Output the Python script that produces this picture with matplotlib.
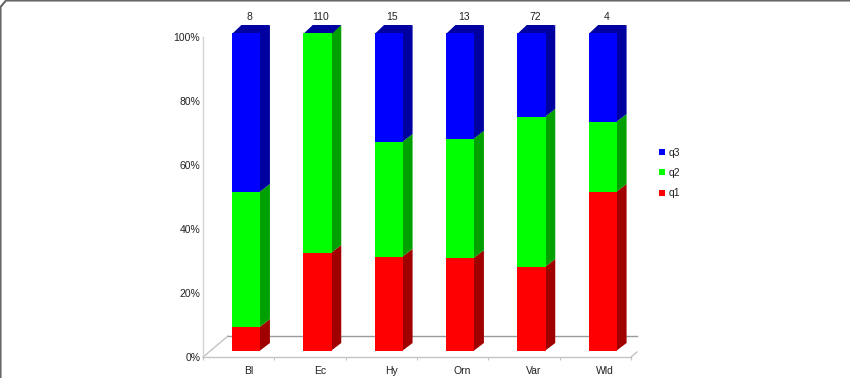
import matplotlib
matplotlib.use("Agg")
import matplotlib.pyplot as plt
from matplotlib.lines import Line2D

# значения, в процентах
groups = ["Bl", "Ec", "Hy", "Orn", "Var", "Wld"]
counts = [8, 110, 15, 13, 72, 4]
q1 = [7.5, 30.8, 29.6, 29.2, 26.4, 50.0]
q2 = [42.5, 69.2, 36.1, 37.5, 47.2, 22.0]
q3 = [50.0, 0.0, 34.3, 33.3, 26.4, 28.0]

W, H = 850, 378
plt.rcParams["font.family"] = ["Liberation Sans", "DejaVu Sans"]

fig = plt.figure(figsize=(W / 100, H / 100), dpi=100)
# передняя плоскость пола: x 203..631, y 37..357 в пикселях
ax = fig.add_axes([203 / W, 1 - 357 / H, 428 / W, 320 / H])
ax.set_xlim(0, 6)
ax.set_ylim(0, 100)
ax.patch.set_alpha(0)

px = 6 / 428      # один пиксель по x в единицах оси
py = 100 / 320    # один пиксель по y в единицах оси

# смещение столбцов и глубина псевдо-3D
bar_w = 28.5 * px
bar_dx = 7.5 * px
bar_dy = 6 * py
dep_x = 9.5 * px
dep_y = 8 * py
floor_x = 25 * px
floor_y = 21 * py

for s in ["top", "right"]:
    ax.spines[s].set_visible(False)
ax.spines["left"].set_color("#d4d4d4")
ax.spines["bottom"].set_color("#c4c4c4")
ax.spines["left"].set_linewidth(1.0)
ax.spines["bottom"].set_linewidth(1.0)

ax.set_yticks(range(0, 101, 20))
ax.set_yticklabels([f"{v}%" for v in range(0, 101, 20)], fontsize=7.5, color="#222222")
ax.tick_params(axis="y", length=0, pad=2)
ax.set_xticks(range(7))
ax.set_xticklabels([])
ax.tick_params(axis="x", length=2, color="#c4c4c4")

# пол
grey = "#9a9a9a"
ax.plot([0, floor_x], [0, floor_y], color="#c4c4c4", lw=1, clip_on=False, zorder=1)
ax.plot([floor_x, 6 + 6 * px], [floor_y, floor_y], color=grey, lw=1, clip_on=False, zorder=1)
ax.plot([6, 6 + 6 * px], [0, 5 * py], color="#c4c4c4", lw=1, clip_on=False, zorder=1)

series = [
    (q1, "#ff0000", "#a00000"),
    (q2, "#00ff00", "#00a000"),
    (q3, "#0000ff", "#0000a0"),
]

for i in range(len(groups)):
    x0 = i + 0.5 - bar_w / 2 + bar_dx
    x1 = x0 + bar_w
    base = 0.0
    for vals, front, side in series:
        v = vals[i]
        if v > 0:
            y0 = base * 318 / 320 + bar_dy
            y1 = (base + v) * 318 / 320 + bar_dy
            # боковая грань под передней, чтобы не было белого шва
            ax.fill([x1 - px, x1 + dep_x, x1 + dep_x, x1 - px],
                    [y0, y0 + dep_y, y1 + dep_y, y1],
                    color=side, lw=0, zorder=3, clip_on=False)
            ax.bar(x0, y1 - y0, width=bar_w, bottom=y0, align="edge",
                   color=front, lw=0, zorder=4, clip_on=False)
        base += v
    # верхняя грань у всех столбцов синяя
    ytop = base * 318 / 320 + bar_dy
    ax.fill([x0, x1, x1 + dep_x, x0 + dep_x],
            [ytop - py, ytop - py, ytop + dep_y, ytop + dep_y],
            color="#0000a0", lw=0, zorder=3, clip_on=False)
    ax.text(i + 0.5 + 11 * px, 100 + 20 * py, str(counts[i]), fontsize=7.5,
            color="#222222", ha="center", va="center")
    ax.text(i + 0.5 + 10 * px, -14 * py, groups[i], fontsize=7.5,
            color="#222222", ha="center", va="center")

# легенда
handles = [Line2D([], [], marker="s", ls="", ms=4.6, mew=0, color=c, label=n)
           for c, n in [("#0000ff", "q3"), ("#00ff00", "q2"), ("#ff0000", "q1")]]
fig.legend(handles=handles, loc="center left", bbox_to_anchor=(657 / W, 1 - 173 / H),
           frameon=False, fontsize=7.5, labelspacing=1.0, handlelength=1.0,
           handletextpad=0.1, borderpad=0, borderaxespad=0, labelcolor="#222222")

# рамка сверху и слева со срезанным углом
fig.add_artist(Line2D([0.5 / W, 0.5 / W, 6 / W, 1],
                      [0, 1 - 7 / H, 1 - 0.5 / H, 1 - 0.5 / H],
                      color="#666666", lw=1.5))

fig.savefig("out.png", dpi=100)
